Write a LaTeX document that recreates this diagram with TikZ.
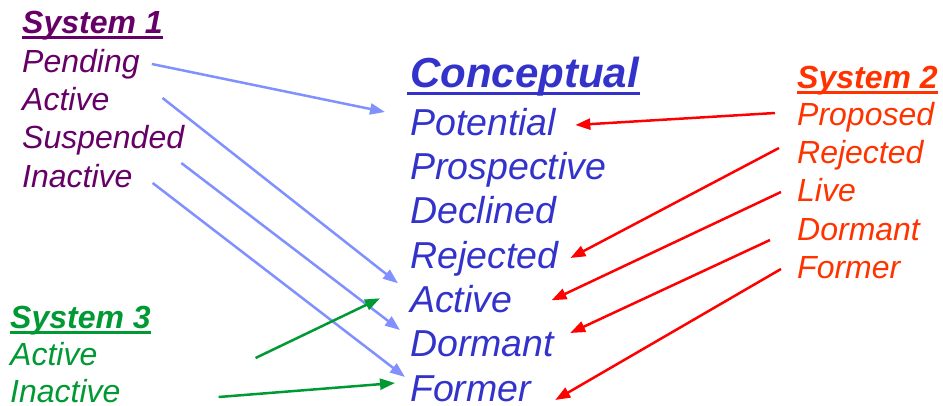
\documentclass[tikz,border=0pt]{standalone}
\usepackage{fontspec}
\setmainfont{Liberation Sans}
\usetikzlibrary{arrows.meta}
\definecolor{sysone}{RGB}{102,0,102}
\definecolor{concept}{RGB}{51,51,204}
\definecolor{systwo}{RGB}{255,51,0}
\definecolor{systhree}{RGB}{0,153,51}
\definecolor{bluearr}{RGB}{128,144,255}
\definecolor{redarr}{RGB}{255,0,0}
\begin{document}
\begin{tikzpicture}[
x=1pt, y=-1pt,
every node/.style={anchor=base west, inner sep=0pt},
item/.style={font=\fontsize{32}{38}\selectfont\itshape},
title/.style={font=\fontsize{32}{38}\selectfont\bfseries\itshape},
citem/.style={font=\fontsize{37.5}{44}\selectfont\itshape, text=concept},
ctitle/.style={font=\fontsize{42}{48}\selectfont\bfseries\itshape, text=concept},
uline/.style={line width=3pt},
arr/.style={line width=2.5pt, -{Triangle[length=15pt,width=11pt]}},
barr/.style={arr, bluearr},
rarr/.style={arr, redarr},
garr/.style={arr, systhree}
]
\useasboundingbox (0,0) rectangle (943,405);
% System 1
\node[title, text=sysone] (s1) at (22,33) {System 1};
\node[item, text=sysone] (s1pen) at (22,72) {Pending};
\node[item, text=sysone] (s1act) at (22,110) {Active};
\node[item, text=sysone] (s1sus) at (22,148) {Suspended};
\node[item, text=sysone] (s1ina) at (22,187) {Inactive};
\draw[uline, sysone] ([yshift=-4pt]s1.base west) -- ([yshift=-4pt]s1.base east);
% Conceptual
\node[ctitle] (c) at (410,87) {Conceptual};
\node[citem] (cpot) at (410,135) {Potential};
\node[citem] (cpro) at (410,179.3) {Prospective};
\node[citem] (cdec) at (410,223.7) {Declined};
\node[citem] (crej) at (410,268) {Rejected};
\node[citem] (cact) at (410,312.3) {Active};
\node[citem] (cdor) at (410,356.7) {Dormant};
\node[citem] (cfor) at (410,401) {Former};
\draw[uline, concept] ([shift={(-3,6)}]c.base west) -- ([shift={(1,6)}]c.base east);
% System 2
\node[title, text=systwo] (s2) at (797,88) {System 2};
\node[item, text=systwo] (s2pro) at (797,125) {Proposed};
\node[item, text=systwo] (s2rej) at (797,163) {Rejected};
\node[item, text=systwo] (s2liv) at (797,201) {Live};
\node[item, text=systwo] (s2dor) at (797,240) {Dormant};
\node[item, text=systwo] (s2for) at (797,278) {Former};
\draw[uline, systwo] ([yshift=-4pt]s2.base west) -- ([yshift=-4pt]s2.base east);
% System 3
\node[title, text=systhree] (s3) at (10,328) {System 3};
\node[item, text=systhree] (s3act) at (10,365) {Active};
\node[item, text=systhree] (s3ina) at (10,402) {Inactive};
\draw[uline, systhree] ([yshift=-4pt]s3.base west) -- ([yshift=-4pt]s3.base east);
% mappings
\draw[barr] ([shift={(12,-8)}]s1pen.base east) -- ([shift={(-25,-23)}]cpot.base west);
\draw[barr] ([shift={(53,-12)}]s1act.base east) -- ([shift={(-12,-29)}]cact.base west);
\draw[barr] ([shift={(-3,15)}]s1sus.base east) -- ([shift={(-10,-26.7)}]cdor.base west);
\draw[barr] ([shift={(20,-4)}]s1ina.base east) -- ([shift={(-5,-24)}]cfor.base west);
\draw[rarr] ([shift={(-22,-12)}]s2pro.base west) -- ([shift={(19,-10)}]cpot.base east);
\draw[rarr] ([shift={(-18,-15)}]s2rej.base west) -- ([shift={(12,-10)}]crej.base east);
\draw[rarr] ([shift={(-16,-9)}]s2liv.base west) -- ([shift={(39,-12)}]cact.base east);
\draw[rarr] ([shift={(-27,0)}]s2dor.base west) -- ([shift={(16,-23.7)}]cdor.base east);
\draw[rarr] ([shift={(-16,-9)}]s2for.base west) -- ([shift={(24,-1)}]cfor.base east);
\draw[garr] ([shift={(158,-7)}]s3act.base east) -- ([shift={(-30,-14)}]cact.base west);
\draw[garr] ([shift={(98,-5)}]s3ina.base east) -- ([shift={(-15,-18)}]cfor.base west);
\end{tikzpicture}
\end{document}
